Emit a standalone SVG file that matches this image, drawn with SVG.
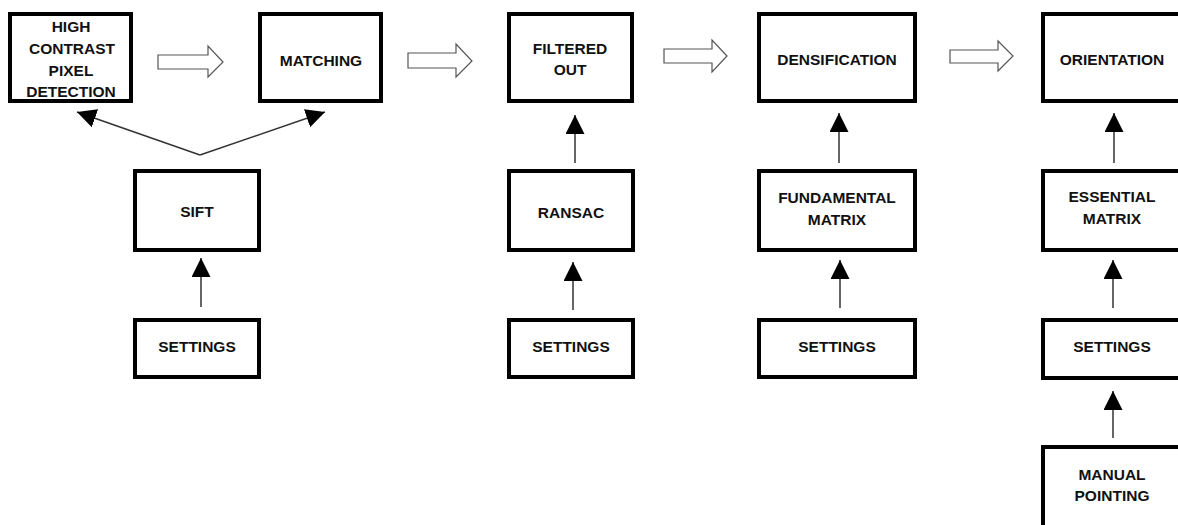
<svg xmlns="http://www.w3.org/2000/svg" width="1178" height="525" viewBox="0 0 1178 525">
  <style>
    .box { fill: #ffffff; stroke: #000000; stroke-width: 4; }
    .lbl { font-family: "Liberation Sans", Arial, sans-serif; font-weight: bold; font-size: 15.5px; fill: #111111; text-anchor: middle; }
    .conn { stroke: #333333; stroke-width: 1.5; fill: none; }
    .hollow { fill: #ffffff; stroke: #555555; stroke-width: 1.2; }
  </style>
  <defs>
    <marker id="ah" markerUnits="userSpaceOnUse" markerWidth="20" markerHeight="20" refX="19" refY="9.5" orient="auto">
      <path d="M0,0 L19,9.5 L0,19 z" fill="#000000"/>
    </marker>
  </defs>
  <rect width="1178" height="525" fill="#ffffff"/>

  <g id="connectors">
    <polygon class="hollow" points="158,55 208,55 208,46 223,62 208,77 208,69 158,69"/>
    <polygon class="hollow" points="408,53 456,53 456,44 472,61 456,77 456,68 408,68"/>
    <polygon class="hollow" points="664,49 712,49 712,40 727,56 712,72 712,63 664,63"/>
    <polygon class="hollow" points="950,50 998,50 998,41 1013,56 998,71 998,63 950,63"/>
    <line class="conn" x1="200" y1="155" x2="77" y2="112" marker-end="url(#ah)"/>
    <line class="conn" x1="200" y1="155" x2="325" y2="112" marker-end="url(#ah)"/>
    <line class="conn" x1="201" y1="307" x2="201" y2="258" marker-end="url(#ah)"/>
    <line class="conn" x1="575" y1="163" x2="575" y2="115" marker-end="url(#ah)"/>
    <line class="conn" x1="573" y1="310" x2="573" y2="262" marker-end="url(#ah)"/>
    <line class="conn" x1="839" y1="163" x2="839" y2="113" marker-end="url(#ah)"/>
    <line class="conn" x1="840" y1="308" x2="840" y2="260" marker-end="url(#ah)"/>
    <line class="conn" x1="1114" y1="163" x2="1114" y2="113" marker-end="url(#ah)"/>
    <line class="conn" x1="1113" y1="308" x2="1113" y2="260" marker-end="url(#ah)"/>
    <line class="conn" x1="1113" y1="438" x2="1113" y2="391" marker-end="url(#ah)"/>
  </g>

  <g id="high-contrast">
    <rect class="box" x="10" y="14" width="121" height="87"/>
    <text class="lbl" x="71" y="32">HIGH</text>
    <text class="lbl" x="72" y="54">CONTRAST</text>
    <text class="lbl" x="71" y="76">PIXEL</text>
    <text class="lbl" x="71" y="97">DETECTION</text>
  </g>
  <g id="matching">
    <rect class="box" x="260" y="14" width="121" height="87"/>
    <text class="lbl" x="321" y="66">MATCHING</text>
  </g>
  <g id="filtered-out">
    <rect class="box" x="509" y="14" width="123" height="87"/>
    <text class="lbl" x="570" y="54">FILTERED</text>
    <text class="lbl" x="570" y="75">OUT</text>
  </g>
  <g id="densification">
    <rect class="box" x="759" y="14" width="156" height="87"/>
    <text class="lbl" x="837" y="65">DENSIFICATION</text>
  </g>
  <g id="orientation">
    <rect class="box" x="1043" y="14" width="140" height="87"/>
    <text class="lbl" x="1112" y="65">ORIENTATION</text>
  </g>
  <g id="sift">
    <rect class="box" x="135" y="171" width="124" height="79"/>
    <text class="lbl" x="197" y="217">SIFT</text>
  </g>
  <g id="settings-1">
    <rect class="box" x="135" y="320" width="124" height="57"/>
    <text class="lbl" x="197" y="352">SETTINGS</text>
  </g>
  <g id="ransac">
    <rect class="box" x="509" y="171" width="124" height="79"/>
    <text class="lbl" x="571" y="218">RANSAC</text>
  </g>
  <g id="settings-2">
    <rect class="box" x="509" y="320" width="124" height="57"/>
    <text class="lbl" x="571" y="352">SETTINGS</text>
  </g>
  <g id="fundamental-matrix">
    <rect class="box" x="759" y="171" width="156" height="79"/>
    <text class="lbl" x="837" y="203">FUNDAMENTAL</text>
    <text class="lbl" x="837" y="225">MATRIX</text>
  </g>
  <g id="settings-3">
    <rect class="box" x="759" y="320" width="156" height="57"/>
    <text class="lbl" x="837" y="352">SETTINGS</text>
  </g>
  <g id="essential-matrix">
    <rect class="box" x="1043" y="171" width="140" height="79"/>
    <text class="lbl" x="1112" y="202">ESSENTIAL</text>
    <text class="lbl" x="1112" y="224">MATRIX</text>
  </g>
  <g id="settings-4">
    <rect class="box" x="1043" y="320" width="140" height="58"/>
    <text class="lbl" x="1112" y="352">SETTINGS</text>
  </g>
  <g id="manual-pointing">
    <rect class="box" x="1043" y="447" width="140" height="90"/>
    <text class="lbl" x="1112" y="480">MANUAL</text>
    <text class="lbl" x="1112" y="501">POINTING</text>
  </g>
</svg>
